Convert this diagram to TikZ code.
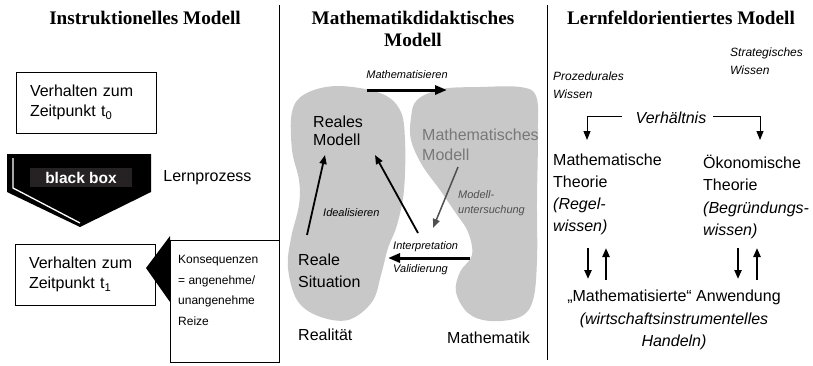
\documentclass[tikz,border=0pt]{standalone}
\usepackage{fontspec}
\setmainfont{Liberation Sans}
\newfontfamily\headfont{Liberation Serif}
\usetikzlibrary{positioning, arrows.meta}
\definecolor{blobgray}{RGB}{200,200,200}
\definecolor{bbgray}{RGB}{38,34,35}
\definecolor{modelgray}{RGB}{120,120,120}
\definecolor{notegray}{RGB}{80,80,80}

\begin{document}
\begin{tikzpicture}[x=1pt, y=-1pt]

% Define styles
\tikzstyle{heading} = [font=\headfont\bfseries\fontsize{19.2}{21.5}\selectfont, align=center, inner sep=0pt]
\tikzstyle{textlabel} = [font=\fontsize{16}{19}\selectfont, align=left, inner sep=0pt]
\tikzstyle{smalllabel} = [font=\fontsize{12}{20.7}\selectfont, align=left, inner sep=0pt]
\tikzstyle{note} = [font=\itshape\fontsize{11.5}{15}\selectfont, align=left, inner sep=0pt]
\tikzstyle{block} = [rectangle, draw, line width=1pt, minimum width=140pt, minimum height=61pt, text width=112pt, inner xsep=14pt, align=left, font=\fontsize{16}{20.5}\selectfont]
\tikzstyle{bblabel} = [rectangle, fill=bbgray, text=white, minimum width=102pt, minimum height=19pt, inner sep=0pt, font=\bfseries\fontsize{15.5}{18}\selectfont]
\tikzstyle{arrow} = [line width=1.8pt, -{Triangle[length=9pt, width=7pt]}]
\tikzstyle{bigarrow} = [line width=3pt, -{Triangle[length=12pt, width=9pt]}]

\useasboundingbox (0,0) rectangle (813,365);

% Headings
\node [heading] (headinst) at (145,18) {Instruktionelles Modell};
\node [heading] (headmath) at (413,29) {Mathematikdidaktisches\\Modell};
\node [heading] (headlern) at (681,18) {Lernfeldorientiertes Modell};

% Separators
\draw [line width=1pt] (279,5) -- (279,362);
\draw [line width=1pt] (547,5) -- (547,360);

% Instruktionelles Modell
\node [block] (t0) at (86,102.5) {Verhalten zum\\Zeitpunkt t\textsubscript{0}};
\fill (7,154) -- (151,154) -- (151,192) -- (80,227) -- (7,192) -- cycle;
\draw [white, line width=1.3pt] (13,158) -- (13,188) -- (80,223);
\node [bblabel] (bb) at (81,177.5) {black box};
\node [textlabel, right=31pt of bb] (lern) {Lernprozess};
\node [block] (t1) at (85,274.5) {Verhalten zum\\Zeitpunkt t\textsubscript{1}};
\node [draw, line width=1pt, minimum width=109pt, minimum height=122pt, anchor=north west] (kons) at (170,240) {};
\fill (170,236) -- (146,268) -- (170,302) -- cycle;
\node [smalllabel, anchor=north west] (konstext) at (178,255) {Konsequenzen\\= angenehme/\\unangenehme\\Reize};

% Mathematikdidaktisches Modell
\fill [blobgray] plot [smooth cycle, tension=0.6] coordinates {(292,112) (305,94) (337,86) (380,93) (400,110) (405,140) (404,190) (397,225) (388,248) (381,275) (372,302) (348,320) (318,316) (297,300) (288,268) (291,238) (299,205) (299,180) (292,150)};
\fill [blobgray] plot [smooth cycle, tension=0.6] coordinates {(417,100) (442,89) (480,87) (520,87) (536,96) (538,130) (537,200) (537,260) (533,300) (520,317) (490,321) (468,313) (456,292) (460,272) (472,255) (468,232) (455,212) (440,190) (422,165) (411,140) (411,118)};

\node [note, font=\itshape\fontsize{11}{15}\selectfont] (mathsier) at (407,75) {Mathematisieren};
\node [textlabel, anchor=west, font=\fontsize{16}{18.5}\selectfont] (realmod) at (313,131) {Reales\\Modell};
\node [textlabel, anchor=west, text=modelgray, font=\fontsize{16}{20}\selectfont] (mathmod) at (422,145) {Mathematisches\\Modell};
\node [note, anchor=west, text=notegray, font=\itshape\fontsize{11}{15}\selectfont] (unters) at (458,203) {Modell-\\untersuchung};
\node [note, anchor=west, font=\itshape\fontsize{11}{15}\selectfont] (ideal) at (323,213) {Idealisieren};
\node [note, anchor=west, font=\itshape\fontsize{11}{23}\selectfont] (interp) at (393,258.5) {Interpretation\\Validierung};
\node [textlabel, anchor=west, font=\fontsize{16}{22}\selectfont] (realsit) at (298,271) {Reale\\Situation};
\node [textlabel, anchor=west] (realitaet) at (298,335) {Realität};
\node [textlabel, anchor=west] (mathematik) at (447,338) {Mathematik};

% Arrow end points
\coordinate (mathsier-a) at (367,90);
\coordinate (mathsier-b) at (447,90);
\coordinate (ideal-a) at (307,235);
\coordinate (ideal-b) at (325,155);
\coordinate (interp-a) at (418,233);
\coordinate (interp-b) at (375,155);
\coordinate (unters-a) at (458,167);
\coordinate (unters-b) at (433,228);
\coordinate (valid-a) at (470,258);
\coordinate (valid-b) at (388,258);

\draw [bigarrow] (mathsier-a) -- (mathsier-b);
\draw [arrow] (ideal-a) -- (ideal-b);
\draw [arrow] (interp-a) -- (interp-b);
\draw [arrow, line width=1.5pt, notegray] (unters-a) -- (unters-b);
\draw [bigarrow] (valid-a) -- (valid-b);

% Lernfeldorientiertes Modell
\node [note, anchor=west, font=\itshape\fontsize{12}{18}\selectfont] (strat) at (730,61) {Strategisches\\Wissen};
\node [note, anchor=west, font=\itshape\fontsize{12}{18}\selectfont] (proz) at (553,85) {Prozedurales\\Wissen};
\node [textlabel, font=\itshape\fontsize{16}{19}\selectfont] (verh) at (671,118) {Verhältnis};
\node [textlabel, anchor=west, font=\fontsize{16}{22}\selectfont] (mattheo) at (553,194) {Mathematische\\Theorie\\\textit{(Regel-}\\\textit{wissen)}};
\node [textlabel, anchor=west, font=\fontsize{16}{22.5}\selectfont] (oektheo) at (703,197) {Ökonomische\\Theorie\\\textit{(Begründungs-}\\\textit{wissen)}};
\node [textlabel, align=center, font=\fontsize{16}{22.5}\selectfont] (anw) at (674,320) {„Mathematisierte“ Anwendung\\\textit{(wirtschaftsinstrumentelles}\\\textit{Handeln)}};

\coordinate (verh-l) at (622,116);
\coordinate (verh-lt) at (587,140);
\coordinate (verh-r) at (713,116);
\coordinate (verh-rt) at (760,140);
\draw [arrow, line width=1pt] (verh-l) -| (verh-lt);
\draw [arrow, line width=1pt] (verh-r) -| (verh-rt);

\foreach \xd/\xu in {588/606, 738/757} {
  \draw [arrow, line width=2.2pt] (\xd,248) -- (\xd,279);
  \draw [arrow, line width=2.2pt] (\xu,280) -- (\xu,248);
}

\end{tikzpicture}
\end{document}
